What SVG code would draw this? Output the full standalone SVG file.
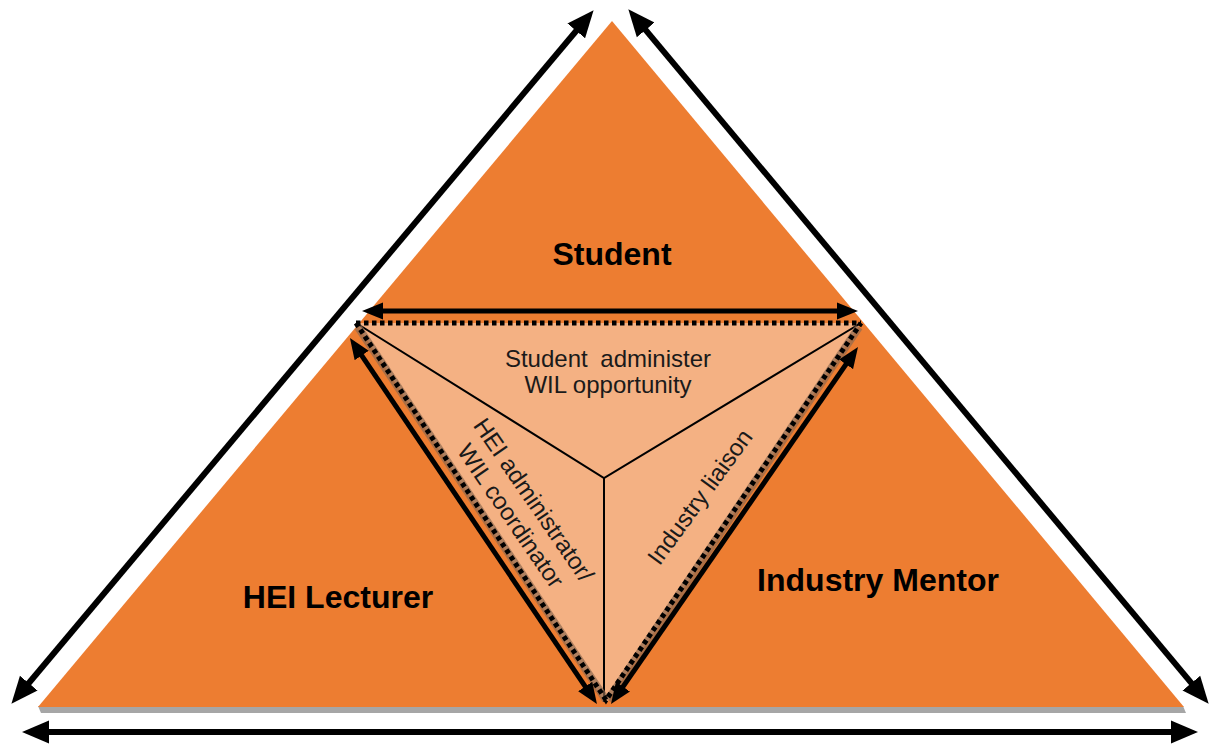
<svg xmlns="http://www.w3.org/2000/svg" width="1212" height="747" viewBox="0 0 1212 747">
  <defs>
    <style>
      .outer { fill: #ED7D31; }
      .inner { fill: #F4B183; }
      .shadow { fill: #A6A6A6; }
      .divider { stroke: #000; stroke-width: 2; fill: none; }
      .dots { stroke: #000; stroke-width: 5; stroke-dasharray: 4.5 3.5; fill: none; }
      .dots-shadow { stroke: #8E6A50; stroke-width: 8; stroke-opacity: 0.7; fill: none; }
      .arrow-big { stroke: #000; stroke-width: 6; fill: none; marker-start: url(#headBig); marker-end: url(#headBig); }
      .arrow-small { stroke: #000; stroke-width: 5; fill: none; marker-start: url(#headSmall); marker-end: url(#headSmall); }
      .role { font-family: "Liberation Sans", Arial, sans-serif; font-weight: bold; font-size: 32px; fill: #000; text-anchor: middle; }
      .task { font-family: "Liberation Sans", Arial, sans-serif; font-size: 24px; fill: #1a1a1a; text-anchor: middle; }
    </style>
    <marker id="headBig" markerUnits="userSpaceOnUse" viewBox="0 -12 27 24" markerWidth="27" markerHeight="24" refX="6" refY="0" orient="auto-start-reverse">
      <path d="M0,-11.5 L27,0 L0,11.5 z" fill="#000"/>
    </marker>
    <marker id="headSmall" markerUnits="userSpaceOnUse" viewBox="0 -9 21 18" markerWidth="21" markerHeight="18" refX="5" refY="0" orient="auto-start-reverse">
      <path d="M0,-8.5 L21,0 L0,8.5 z" fill="#000"/>
    </marker>
  </defs>

  <!-- base shadow under the big triangle -->
  <polygon class="shadow" points="38,706 1183,706 1186,713 41,713"/>

  <!-- Student corner (whole outer triangle) -->
  <g id="student">
    <polygon class="outer" points="612,21 38,707 1184,707"/>
    <text class="role" x="612" y="265">Student</text>
  </g>

  <!-- HEI Lecturer label region -->
  <g id="hei-lecturer">
    <text class="role" x="338" y="608">HEI Lecturer</text>
  </g>

  <!-- Industry Mentor label region -->
  <g id="industry-mentor">
    <text class="role" x="878" y="591">Industry Mentor</text>
  </g>

  <!-- central shared triangle with its three sectors -->
  <g id="shared-core">
    <polygon class="inner" points="356,323 861,323 606,704"/>
    <path class="divider" d="M356,323 L604,478 L861,323 M604,478 L604,702"/>
    <text class="task" x="608" y="367" word-spacing="6">Student administer</text>
    <text class="task" x="608" y="393">WIL opportunity</text>
    <g transform="translate(522,508) rotate(55.5)">
      <text class="task" x="0" y="-6">HEI administrator/</text>
      <text class="task" x="0" y="22">WIL coordinator</text>
    </g>
    <g transform="translate(700,497) rotate(-54)">
      <text class="task" x="0" y="8">Industry liaison</text>
    </g>
  </g>

  <!-- connectors -->
  <g id="connectors">
    <!-- dotted boundaries of the shared core -->
    <path class="dots-shadow" d="M358,327 L606,700 M859,327 L608,700"/>
    <path class="dots" d="M356,323 L861,323"/>
    <path class="dots" d="M356,323 L606,700 L861,323"/>

    <!-- inner double arrows -->
    <path class="arrow-small" d="M378,311 L842,311"/>
    <path class="arrow-small" d="M358.9,351.3 L588,690.7"/>
    <path class="arrow-small" d="M848.9,360.2 L620.1,690.8"/>

    <!-- outer double arrows -->
    <path class="arrow-big" d="M24.9,687.7 L580.1,26.3"/>
    <path class="arrow-big" d="M641.8,25.3 L1195.2,687.7"/>
    <path class="arrow-big" d="M43,732 L1177,732"/>
  </g>
</svg>
